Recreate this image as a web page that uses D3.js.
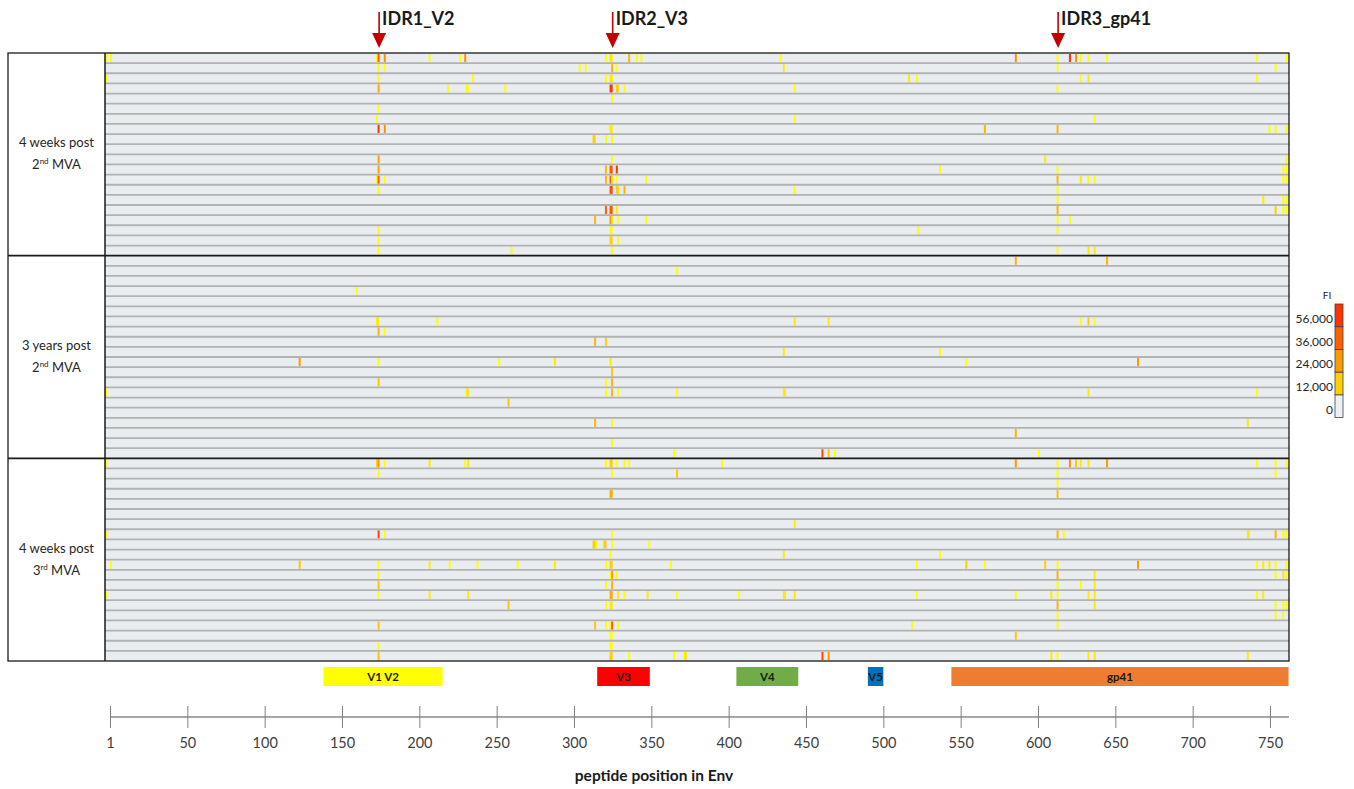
<!DOCTYPE html>
<html><head><meta charset="utf-8">
<script src="https://cdn.jsdelivr.net/npm/d3@7"></script>
<style>body{margin:0;background:#fff}</style>
</head><body><svg id="c" width="1354" height="789"></svg>
<script>
// ---------- data ----------
const panelLine1 = ['4 weeks post', '3 years post', '4 weeks post'];
const panelOrdinal = ['2', '2', '3'];
const panelSuffix = ['nd', 'nd', 'rd'];
const rowsPerPanel = 20;

const tickLabels = ['1','50','100','150','200','250','300','350','400','450','500','550','600','650','700','750'];
const axisTitle = 'peptide position in Env';

const regionNames = ['V1 V2', 'V3', 'V4', 'V5', 'gp41'];
const regionStart = [138, 315, 405, 490, 544];
const regionEnd = [215, 349, 445, 500, 762];
const regionColors = ['#FFFF00', '#FF0000', '#70AD47', '#0070C0', '#ED7D31'];

const idrLabels = ['IDR1_V2', 'IDR2_V3', 'IDR3_gp41'];
const idrPos = [174, 325, 613];

const legendTitle = 'FI';
const legendValues = [0, 12000, 24000, 36000, 56000];
const legendLabels = ['0', '12,000', '24,000', '36,000', '56,000'];
const legendColors = ['#EEF1F4', '#FFD000', '#FF9900', '#FF6000', '#FF3300'];

// marks: [row within panel, peptide position, span (positions), FI]
const marksPanel1 = [
 [0,-3,1,5000],[0,0,1,5000],[0,172,1,5000],[0,173,1,40000],[0,177,1,26000],[0,206,1,5000],[0,226,1,5000],[0,229,1,26000],[0,320,1,5000],[0,323,2,8000],[0,335,1,18000],[0,340,1,5000],[0,343,1,5000],[0,433,1,5000],[0,585,1,26000],[0,612,1,5000],[0,620,1,58000],[0,624,1,26000],[0,627,1,5000],[0,632,1,5000],[0,644,1,5000],[0,741,1,5000],[0,760,1,5000],
 [1,173,1,5000],[1,177,1,5000],[1,303,1,5000],[1,307,1,5000],[1,324,1,18000],[1,327,1,5000],[1,435,1,8000],[1,612,1,5000],[1,753,1,5000],
 [2,-3,1,5000],[2,173,1,5000],[2,234,1,5000],[2,320,1,5000],[2,323,2,8000],[2,516,1,8000],[2,521,1,5000],[2,627,1,5000],[2,632,1,8000],[2,741,1,5000],
 [3,173,1,20000],[3,218,1,5000],[3,230,2,5000],[3,255,1,5000],[3,323,2,58000],[3,327,2,12000],[3,332,1,5000],[3,442,1,5000],[3,612,1,5000],
 [4,324,1,5000],
 [5,173,1,5000],
 [6,172,1,5000],[6,442,1,5000],[6,636,1,5000],
 [7,173,1,58000],[7,177,1,26000],[7,323,2,8000],[7,565,1,18000],[7,612,1,18000],[7,749,1,5000],[7,753,1,5000],[7,760,1,5000],
 [8,312,2,12000],[8,320,1,5000],[8,324,1,5000],
 [10,173,1,22000],[10,324,1,5000],[10,604,1,8000],[10,760,1,5000],
 [11,173,1,22000],[11,320,1,18000],[11,323,2,40000],[11,327,1,58000],[11,536,1,5000],[11,612,1,5000],[11,758,1,5000],[11,760,1,5000],
 [12,172,1,5000],[12,173,1,40000],[12,177,1,5000],[12,320,1,18000],[12,323,1,40000],[12,324,1,8000],[12,327,1,5000],[12,346,1,5000],[12,612,1,18000],[12,627,1,8000],[12,632,1,5000],[12,636,1,5000],[12,758,1,5000],[12,760,1,5000],
 [13,173,1,5000],[13,323,2,45000],[13,327,2,12000],[13,332,1,18000],[13,442,1,5000],[13,612,1,5000],
 [14,612,1,5000],[14,745,1,8000],[14,758,1,5000],[14,760,1,5000],
 [15,320,1,36000],[15,323,2,40000],[15,327,1,8000],[15,612,1,18000],[15,753,1,12000],[15,758,1,5000],[15,760,1,5000],
 [16,313,1,18000],[16,323,1,26000],[16,324,1,8000],[16,328,1,5000],[16,346,1,5000],[16,612,1,5000],[16,620,1,5000],
 [17,173,1,5000],[17,323,2,5000],[17,522,1,5000],[17,612,1,5000],
 [18,173,1,5000],[18,323,2,12000],[18,328,1,5000],
 [19,173,1,5000],[19,259,1,5000],[19,324,1,5000],[19,612,1,5000],[19,632,1,8000],[19,636,1,8000]
];
const marksPanel2 = [
 [0,585,1,18000],[0,644,1,18000],
 [1,366,1,5000],
 [3,159,1,5000],
 [6,172,2,8000],[6,211,1,5000],[6,442,1,8000],[6,464,1,8000],[6,627,1,5000],[6,632,1,12000],[6,636,1,5000],
 [7,173,1,18000],[7,177,1,5000],
 [8,313,1,18000],[8,320,1,12000],
 [9,435,1,8000],[9,536,1,5000],
 [10,122,1,24000],[10,173,1,5000],[10,251,1,5000],[10,287,1,8000],[10,323,1,8000],[10,553,1,5000],[10,664,1,24000],
 [11,324,1,14000],
 [12,173,1,14000],[12,320,1,5000],[12,324,1,18000],
 [13,-3,1,5000],[13,230,2,8000],[13,320,1,5000],[13,324,1,18000],[13,328,1,5000],[13,366,1,5000],[13,435,2,8000],[13,632,1,8000],[13,741,1,5000],
 [14,257,1,14000],
 [16,313,1,18000],[16,324,1,5000],[16,735,1,8000],
 [17,585,1,18000],
 [18,324,1,5000],
 [19,364,1,5000],[19,460,1,48000],[19,464,1,14000],[19,468,1,5000],[19,600,1,5000]
];
const marksPanel3 = [
 [0,-3,1,5000],[0,172,1,12000],[0,173,1,24000],[0,177,1,5000],[0,206,1,8000],[0,229,1,5000],[0,231,1,8000],[0,320,1,5000],[0,323,2,12000],[0,327,1,5000],[0,332,1,5000],[0,335,1,5000],[0,395,1,5000],[0,585,1,24000],[0,612,1,5000],[0,620,1,26000],[0,624,1,14000],[0,627,1,8000],[0,632,1,8000],[0,644,1,24000],[0,741,1,5000],[0,753,1,5000],[0,760,1,5000],
 [1,173,1,5000],[1,324,1,5000],[1,366,1,14000],[1,612,1,5000],[1,753,1,5000],
 [2,612,1,5000],
 [3,323,2,20000],[3,612,1,16000],
 [6,442,1,8000],
 [7,-3,1,5000],[7,173,1,48000],[7,177,1,5000],[7,324,1,5000],[7,612,1,18000],[7,616,1,5000],[7,735,2,8000],[7,753,1,18000],[7,758,1,5000],[7,760,1,5000],
 [8,312,2,12000],[8,314,1,5000],[8,319,2,12000],[8,324,1,5000],[8,348,1,5000],
 [9,323,1,5000],[9,435,1,8000],[9,536,1,5000],
 [10,0,1,5000],[10,122,1,14000],[10,173,1,5000],[10,206,1,8000],[10,219,1,5000],[10,237,1,5000],[10,263,1,5000],[10,287,1,8000],[10,320,1,5000],[10,323,2,12000],[10,362,1,5000],[10,521,1,5000],[10,553,1,12000],[10,565,1,5000],[10,604,1,12000],[10,612,1,5000],[10,664,1,24000],[10,741,1,5000],[10,745,1,8000],[10,749,1,8000],[10,753,1,5000],[10,760,1,5000],
 [11,173,1,5000],[11,323,1,5000],[11,324,1,24000],[11,327,1,5000],[11,612,1,18000],[11,636,1,8000],[11,753,1,5000],[11,758,1,8000],[11,760,1,5000],
 [12,173,1,14000],[12,320,1,5000],[12,324,1,18000],[12,612,1,5000],[12,627,1,5000],[12,636,1,8000],
 [13,-3,1,5000],[13,173,1,5000],[13,206,1,8000],[13,231,1,8000],[13,323,2,20000],[13,328,1,8000],[13,332,1,5000],[13,347,1,8000],[13,366,1,5000],[13,406,1,5000],[13,435,2,8000],[13,442,1,8000],[13,521,1,5000],[13,585,1,5000],[13,608,1,8000],[13,612,1,5000],[13,632,1,8000],[13,636,1,8000],[13,741,1,5000],[13,745,1,8000],
 [14,257,1,14000],[14,320,1,5000],[14,323,2,8000],[14,612,1,18000],[14,636,1,8000],[14,753,1,5000],[14,758,1,5000],[14,760,1,5000],
 [15,612,1,5000],[15,753,1,5000],[15,758,1,5000],
 [16,173,1,14000],[16,313,1,14000],[16,320,1,5000],[16,323,1,5000],[16,324,1,40000],[16,328,1,5000],[16,518,1,5000],[16,612,1,5000],
 [17,323,2,5000],[17,585,1,14000],
 [18,173,1,5000],[18,323,2,5000],
 [19,173,1,14000],[19,323,2,12000],[19,335,1,5000],[19,364,1,5000],[19,371,2,8000],[19,460,1,48000],[19,464,1,24000],[19,608,1,8000],[19,612,1,5000],[19,632,1,8000],[19,636,1,8000],[19,735,1,8000]
];

// ---------- layout ----------
const svg = d3.select('#c');
const font = 'Lato, "Open Sans", sans-serif';
const frameLeft = 8, heatLeft = 105, heatRight = 1289, heatTop = 53, heatBottom = 661;
const nPanels = panelLine1.length, nRows = nPanels * rowsPerPanel;

const xPos = d3.scaleLinear().domain([0, 750]).range([110, 1270]);
const yRow = d3.scaleLinear().domain([0, nRows]).range([heatTop, heatBottom]);
const rowH = yRow(1) - yRow(0);
const color = d3.scaleLinear()
  .domain([5000, 12000, 24000, 36000, 56000])
  .range(['#FFFF00', '#FFD000', '#FF9900', '#FF6000', '#FF3300'])
  .clamp(true);

// row backgrounds
svg.append('g').selectAll('rect').data(d3.range(nRows)).join('rect')
  .attr('x', heatLeft).attr('y', d => yRow(d))
  .attr('width', heatRight - heatLeft).attr('height', rowH)
  .attr('fill', '#EAEDF0');

// marks
const allMarks = [marksPanel1, marksPanel2, marksPanel3]
  .flatMap((arr, pi) => arr.map(m => ({row: pi * rowsPerPanel + m[0], pos: m[1], span: m[2], v: m[3]})));
svg.append('g').selectAll('rect').data(allMarks).join('rect')
  .attr('x', d => xPos(d.pos))
  .attr('width', d => Math.max(2, xPos(d.pos + d.span) - xPos(d.pos)))
  .attr('y', d => yRow(d.row) + 1)
  .attr('height', rowH - 2)
  .attr('fill', d => color(d.v));

// row separators
svg.append('g').selectAll('line')
  .data(d3.range(1, nRows).filter(i => i % rowsPerPanel !== 0)).join('line')
  .attr('x1', heatLeft).attr('x2', heatRight)
  .attr('y1', d => yRow(d)).attr('y2', d => yRow(d))
  .attr('stroke', '#B2B2B2').attr('stroke-width', 1.8);

// frame
const frame = svg.append('g').attr('fill', 'none').attr('stroke', '#1a1a1a');
frame.append('rect').attr('x', frameLeft).attr('y', heatTop)
  .attr('width', heatRight - frameLeft).attr('height', heatBottom - heatTop).attr('stroke-width', 1.3);
frame.append('line').attr('x1', heatLeft).attr('x2', heatLeft).attr('y1', heatTop).attr('y2', heatBottom).attr('stroke-width', 1.5);
d3.range(1, nPanels).forEach(p => {
  frame.append('line').attr('x1', frameLeft).attr('x2', heatRight)
    .attr('y1', yRow(p * rowsPerPanel)).attr('y2', yRow(p * rowsPerPanel)).attr('stroke-width', 1.6);
});

// panel labels
d3.range(nPanels).forEach(p => {
  const cy = (yRow(p * rowsPerPanel) + yRow((p + 1) * rowsPerPanel)) / 2;
  const cx = (frameLeft + heatLeft) / 2;
  const t = svg.append('text').attr('x', cx).attr('y', cy - 7).attr('text-anchor', 'middle')
    .attr('font-family', font).attr('font-size', 13).attr('fill', '#262626');
  t.text(panelLine1[p]);
  const t2 = svg.append('text').attr('x', cx).attr('y', cy + 15).attr('text-anchor', 'middle')
    .attr('font-family', font).attr('font-size', 13).attr('fill', '#262626');
  t2.append('tspan').text(panelOrdinal[p]);
  t2.append('tspan').attr('font-size', 8).attr('dy', -5).text(panelSuffix[p]);
  t2.append('tspan').attr('dy', 5).text(' MVA');
});

// IDR arrows
const idr = svg.append('g').selectAll('g').data(idrLabels).join('g')
  .attr('transform', (d, i) => `translate(${xPos(idrPos[i])},0)`);
idr.append('line').attr('x1', 0).attr('x2', 0).attr('y1', 12).attr('y2', 35)
  .attr('stroke', '#C00000').attr('stroke-width', 1.6);
idr.append('path').attr('d', 'M-7,33L7,33L0,48Z').attr('fill', '#C00000');
idr.append('text').attr('x', 3).attr('y', 25).text(d => d)
  .attr('font-family', font).attr('font-weight', 'bold').attr('font-size', 18).attr('fill', '#1a1a1a');

// region bars
const reg = svg.append('g').selectAll('g').data(regionNames).join('g');
reg.append('rect')
  .attr('x', (d, i) => xPos(regionStart[i])).attr('y', 667)
  .attr('width', (d, i) => xPos(regionEnd[i]) - xPos(regionStart[i])).attr('height', 19)
  .attr('fill', (d, i) => regionColors[i]);
reg.append('text')
  .attr('x', (d, i) => (xPos(regionStart[i]) + xPos(regionEnd[i])) / 2).attr('y', 680.5)
  .attr('text-anchor', 'middle').attr('font-family', font).attr('font-weight', 'bold')
  .attr('font-size', 11.5).attr('fill', '#1a1a1a').text(d => d);

// axis
const axisY = 717;
const axisScale = d3.scalePoint().domain(tickLabels).range([xPos(0), xPos(750)]);
svg.append('line').attr('x1', axisScale(tickLabels[0])).attr('x2', heatRight)
  .attr('y1', axisY).attr('y2', axisY).attr('stroke', '#A6A6A6').attr('stroke-width', 1.8);
const ax = svg.append('g').attr('transform', `translate(0,${axisY})`)
  .call(d3.axisBottom(axisScale).tickSizeInner(11).tickSizeOuter(0).tickPadding(10));
ax.select('.domain').remove();
ax.selectAll('.tick line').attr('y1', -11).attr('stroke', '#808080');
ax.selectAll('.tick text').attr('font-family', font).attr('font-size', 14.5).attr('fill', '#404040');
svg.append('text').attr('x', 654).attr('y', 781).attr('text-anchor', 'middle')
  .attr('font-family', font).attr('font-weight', 'bold').attr('font-size', 15.5).attr('fill', '#1a1a1a')
  .text(axisTitle);

// legend
const legX = 1335, legW = 8, legTop = 304, segH = 22.7;
const leg = svg.append('g');
const nSeg = legendValues.length;
leg.selectAll('rect').data(legendValues).join('rect')
  .attr('x', legX).attr('width', legW)
  .attr('y', (d, i) => legTop + (nSeg - 1 - i) * segH).attr('height', segH)
  .attr('fill', (d, i) => legendColors[i]).attr('stroke', '#404040').attr('stroke-width', 0.8);
leg.selectAll('text.lab').data(legendLabels).join('text').attr('class', 'lab')
  .attr('x', legX - 2).attr('y', (d, i) => legTop + (nSeg - 1 - i) * segH + 19)
  .attr('text-anchor', 'end').attr('font-family', font).attr('font-size', 12).attr('fill', '#262626')
  .text(d => d);
leg.append('text').attr('x', 1327).attr('y', 299).attr('text-anchor', 'middle')
  .attr('font-family', font).attr('font-size', 10).attr('fill', '#2a1a40').text(legendTitle);
</script></body></html>
